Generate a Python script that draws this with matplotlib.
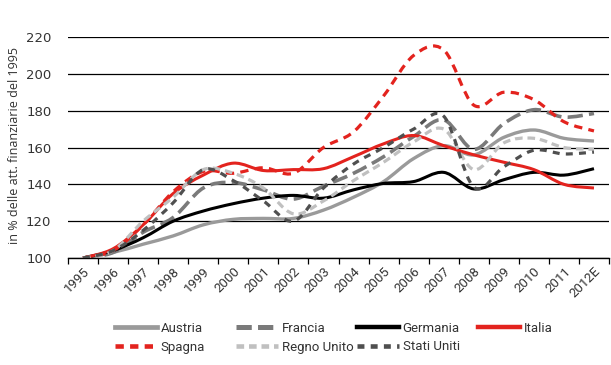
import matplotlib
matplotlib.use("Agg")
import matplotlib.pyplot as plt
from matplotlib.path import Path
from matplotlib.patches import PathPatch
from matplotlib.lines import Line2D
import numpy as np

years = ['1995', '1996', '1997', '1998', '1999', '2000', '2001', '2002', '2003',
         '2004', '2005', '2006', '2007', '2008', '2009', '2010', '2011', '2012E']

austria = [100, 103, 107.5, 112, 118, 121, 121.5, 121.5, 126, 133, 141.5, 154, 161, 156, 165.5, 169.5, 165, 163.5]
francia = [100, 103, 114, 122, 138, 141, 137, 132, 139, 146, 155, 166, 175, 159, 173, 180.5, 176.5, 178.5]
germania = [100, 104, 111, 120, 125.5, 129.5, 132.5, 134, 132.5, 137, 140.5, 141.5, 146.5, 137.5, 142.5, 146.5, 145, 148.5]
italia = [100, 105, 118, 135, 145, 151.5, 147.5, 148, 148.5, 155, 162, 166.5, 161, 156, 152, 148, 140, 138]
spagna = [100, 104, 118, 136, 147, 146, 149, 146, 160, 168.5, 188, 210, 213, 183, 190, 186, 174, 169]
regno_unito = [100, 104, 120, 133, 148, 146, 138, 124, 131, 142, 152, 163, 170, 148, 162.5, 165, 160, 159]
stati_uniti = [100, 104, 115, 130, 148, 142, 131, 120, 138, 151, 160, 170, 177, 138.5, 149.5, 158.5, 156.5, 157.5]

labels = ['Austria', 'Francia', 'Germania', 'Italia', 'Spagna', 'Regno Unito', 'Stati Uniti']
series = [austria, francia, germania, italia, spagna, regno_unito, stati_uniti]

plt.rcParams['lines.scale_dashes'] = False
plt.rcParams['font.family'] = ['Roboto', 'DejaVu Sans']

styles = [
    dict(color='#9a9a9a', lw=2.4, ls='-'),
    dict(color='#7a7a7a', lw=2.6, ls=(0, (11, 4.5))),
    dict(color='#000000', lw=2.2, ls='-'),
    dict(color='#e3231e', lw=2.2, ls='-'),
    dict(color='#e3231e', lw=2.3, ls=(0, (6, 4.5))),
    dict(color='#c0c0c0', lw=2.3, ls=(0, (5.5, 3.5))),
    dict(color='#4f4f4f', lw=2.3, ls=(0, (5, 4.5))),
]

W, H = 611, 365
fig = plt.figure(figsize=(W / 100, H / 100), dpi=100)
ax = fig.add_axes([68 / W, (H - 258) / H, (609 - 68) / W, (258 - 37) / H])

xs = np.arange(len(years)) + 0.5


def smooth_path(x, y):
    pts = np.column_stack([x, y]).astype(float)
    n = len(pts)
    verts = [pts[0]]
    codes = [Path.MOVETO]
    for i in range(n - 1):
        p0 = pts[i - 1] if i > 0 else pts[i]
        p1 = pts[i]
        p2 = pts[i + 1]
        p3 = pts[i + 2] if i + 2 < n else pts[i + 1]
        c1 = p1 + (p2 - p0) / 6.0
        c2 = p2 - (p3 - p1) / 6.0
        verts += [c1, c2, p2]
        codes += [Path.CURVE4] * 3
    return Path(verts, codes)


for k in range(7):
    st = styles[k]
    patch = PathPatch(smooth_path(xs, series[k]), fill=False, edgecolor=st['color'],
                      linewidth=st['lw'], linestyle=st['ls'], capstyle='butt',
                      joinstyle='round', zorder=3 + k * 0.1)
    ax.add_patch(patch)

ax.set_xlim(0, len(years))
ax.set_ylim(100, 220)
ax.set_yticks(np.arange(100, 221, 20))
ax.grid(axis='y', color='black', lw=0.9)
ax.set_axisbelow(True)
for s in ['left', 'right', 'top']:
    ax.spines[s].set_visible(False)
ax.spines['bottom'].set_color('black')
ax.spines['bottom'].set_linewidth(1.0)

ax.set_xticks(np.arange(0, len(years) + 1))
ax.set_xticklabels([])
ax.tick_params(axis='x', which='major', length=4, width=0.9, color='black', direction='out')
ax.set_xticks(xs, minor=True)
ax.set_xticklabels(years, minor=True, rotation=45, ha='right', va='top',
                   rotation_mode='anchor', fontsize=9.5, color='#333333')
ax.tick_params(axis='x', which='minor', length=0, pad=5)
ax.tick_params(axis='y', length=0, pad=12)
for t in ax.get_yticklabels():
    t.set_fontfamily(['DejaVu Sans'])
    t.set_fontsize(9.5)
    t.set_color('#333333')

fig.text(15 / W, 1 - 146 / H, 'in % delle att. finanziarie del 1995', rotation=90,
         ha='center', va='center', fontsize=9, color='#333333',
         family=['Open Sans', 'DejaVu Sans'])

pos = [(115, 328), (236, 328), (357, 328), (478, 328), (115, 347), (236, 347), (357, 347)]
for k in range(7):
    st = styles[k]
    h = Line2D([0], [0], color=st['color'], lw=st['lw'] + 1.0, ls=st['ls'])
    x0, y0 = pos[k]
    leg = fig.legend([h], [labels[k]], loc='center left',
                     bbox_to_anchor=(x0 / W, 1 - y0 / H), frameon=False,
                     handlelength=3.2, handletextpad=0.25, borderpad=0, borderaxespad=0,
                     fontsize=9.5)
    for t in leg.get_texts():
        t.set_color('#333333')

fig.savefig('out.png', dpi=100)
